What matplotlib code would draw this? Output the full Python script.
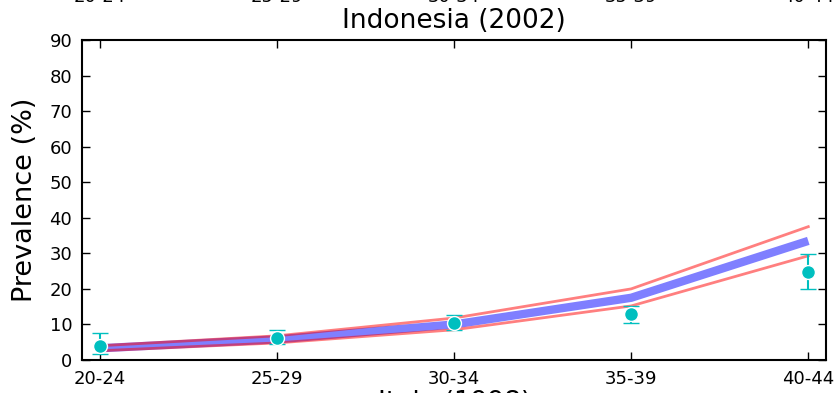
import matplotlib
matplotlib.use("Agg")
import matplotlib.pyplot as plt
import numpy as np

categories = ["20-24", "25-29", "30-34", "35-39", "40-44"]
model_mean = [3.3, 5.8, 10.0, 17.5, 33.5]
model_upper = [4.0, 6.8, 11.8, 20.0, 37.5]
model_lower = [2.6, 4.8, 8.5, 15.2, 29.3]
obs = [4.0, 6.3, 10.5, 12.9, 24.7]
obs_low = [1.8, 4.5, 8.4, 10.5, 20.0]
obs_high = [7.7, 8.4, 12.7, 15.3, 29.7]
yticks = [0, 10, 20, 30, 40, 50, 60, 70, 80, 90]

W, H = 839, 393
fig = plt.figure(figsize=(W / 100, H / 100), dpi=100)
ax = fig.add_axes([82 / W, (H - 360) / H, (826 - 82) / W, (360 - 40) / H])

x = np.arange(len(categories))
ax.plot(x, model_mean, color="blue", alpha=0.5, lw=6, solid_capstyle="butt", zorder=2)
ax.plot(x, model_upper, color="red", alpha=0.5, lw=2, zorder=3)
ax.plot(x, model_lower, color="red", alpha=0.5, lw=2, zorder=3)
obs_a = np.array(obs)
yerr = [obs_a - np.array(obs_low), np.array(obs_high) - obs_a]
ax.errorbar(x, obs, yerr=yerr, fmt="o", color="c", ecolor="c", elinewidth=1.5,
            capsize=6, capthick=1.5, markersize=10, markeredgecolor="white",
            markeredgewidth=1, zorder=4)

ax.set_xlim(-0.1, 4.1)
ax.set_ylim(0, 90)
ax.set_xticks(x)
ax.set_xticklabels(categories)
ax.set_yticks(yticks)
ax.tick_params(direction="in", length=6, width=1, top=True, right=True,
               labelsize=13, pad=7)
for s in ax.spines.values():
    s.set_linewidth(1.5)

ax.set_title("Indonesia (2002)", fontsize=19, pad=9)
fig.text(25 / W, 1 - 200 / H, "Prevalence (%)", rotation=90, fontsize=19.5,
         ha="center", va="center")

# remnants of neighbouring subplots (cropped)
for i, c in enumerate(categories):
    xf = (82 + (i + 0.1) * (744 / 4.2)) / W
    fig.text(xf, 1 + 3 / H, c, ha="center", va="center", fontsize=13)
fig.text(455 / W, 1 - 403 / H, "Italy (1998)", ha="center", va="center", fontsize=19)

fig.savefig("out.png", dpi=100)
